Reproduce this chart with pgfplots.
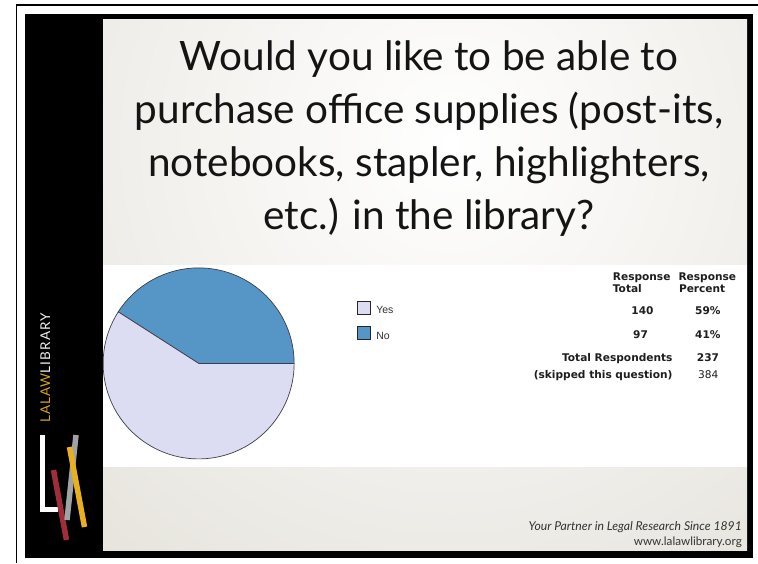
\documentclass[border=0pt]{standalone}
\usepackage{fontspec}
\usepackage{pgfplots}
\usepackage{pgfplotstable}
\pgfplotsset{compat=1.18}
\setmainfont{Lato}
\newfontfamily\titlefont{Lato}
\newfontfamily\tabfont{DejaVu Sans}
\newfontfamily\legfont{Liberation Sans}
\newfontfamily\logofont[LetterSpace=8]{Lato}

\definecolor{yescol}{RGB}{220,220,242}
\definecolor{nocol}{RGB}{86,150,199}
\definecolor{pieline}{RGB}{60,62,72}
\definecolor{slidebg}{RGB}{230,227,220}
\definecolor{titlecol}{RGB}{20,20,20}
\definecolor{tabtext}{RGB}{30,30,30}
\definecolor{legtext}{RGB}{50,50,50}
\definecolor{logogold}{RGB}{212,162,30}
\definecolor{logored}{RGB}{160,45,60}
\definecolor{logogray}{RGB}{160,163,166}
\definecolor{logoyellow}{RGB}{232,176,30}

% survey answers
\pgfplotstableread{
label count
Yes 140
No 97
}\piedata

\begin{document}
\begin{tikzpicture}[x=1pt,y=1pt]
\path[use as bounding box, fill=white] (0,0) rectangle (758,563);

% frame of the slide
\draw[black, line width=1.3pt] (16.5,0) -- (16.5,558) -- (758,558);
\fill[black] (25,5) rectangle (753,549);
\begin{scope}
  \clip (103,13) rectangle (747,543);
  \shade[inner color=white, outer color=slidebg] (450,420) circle (560);
\end{scope}
\fill[white] (103,96) rectangle (747,298);

% logo strip
\node[rotate=90, inner sep=0pt, font=\logofont\fontsize{13.5}{13.5}\selectfont]
  at (45.3,195) {\textcolor{logogold}{LALAW}\textcolor{white!88!gray}{LIBRARY}};
\fill[white] (40,51) rectangle (45,128);
\fill[white] (40,51) rectangle (58,56);
\draw[logored, line width=5.5pt] (53.5,93) -- (66.5,23);
\draw[logogray, line width=5.5pt] (76,128) -- (67,43);
\draw[logoyellow, line width=5.5pt] (69.5,116) -- (84.5,36);

% title
\begin{scope}[every node/.style={anchor=base, text=titlecol,
    font=\titlefont\fontsize{40.5}{48}\selectfont}]
  \node at (429,492) {Would you like to be able to};
  \node at (429,439) {purchase office supplies (post-its,};
  \node at (429,386) {notebooks, stapler, highlighters,};
  \node at (429,333) {etc.) in the library?};
\end{scope}

% pie
\pgfplotstablegetelem{0}{count}\of\piedata \let\nyes\pgfplotsretval
\pgfplotstablegetelem{1}{count}\of\piedata \let\nno\pgfplotsretval
\pgfmathsetmacro\angno{360*(\nno/(\nyes+\nno))}

\begin{axis}[
    hide axis,
    clip=false,
    x=95.5pt, y=95.5pt,
    xmin=-1, xmax=1, ymin=-1, ymax=1,
    anchor=origin,
    at={(208,209)},
    legend style={draw=none, fill=none, at={(1.327,0.83)}, anchor=north west,
      font=\legfont\fontsize{10.5}{12}\selectfont, text=legtext,
      row sep=9pt, inner sep=0pt, nodes={inner sep=2pt}},
    legend cell align=left,
    legend image code/.code={\draw[#1, draw=black!85, line width=0.7pt]
      (0pt,-3pt) rectangle (13pt,10pt); \path (17pt,0pt);},
]
\addlegendimage{fill=yescol}
\addlegendentry{Yes}
\addlegendimage{fill=nocol}
\addlegendentry{No}
\filldraw[fill=nocol, draw=pieline, line width=0.7pt]
  (axis cs:0,0) -- (axis cs:1,0) arc[start angle=0, end angle=\angno, radius=95.5pt] -- cycle;
\filldraw[fill=yescol, draw=pieline, line width=0.7pt]
  (axis cs:0,0) -- ++(\angno:95.5pt) arc[start angle=\angno, end angle=360, radius=95.5pt] -- cycle;
\end{axis}

% response table
\begin{scope}[every node/.style={inner sep=0pt, text=tabtext,
    font=\tabfont\bfseries\fontsize{10.6}{12}\selectfont}]
  \node[anchor=base west] at (612.7,282.7) {Response};
  \node[anchor=base west] at (612.7,270.3) {Total};
  \node[anchor=base west] at (678.3,282.7) {Response};
  \node[anchor=base west] at (678.8,270.3) {Percent};
  \node[anchor=base] at (642.5,248.3) {140};
  \node[anchor=base west] at (695,248.3) {59\%};
  \node[anchor=base] at (640.5,224.3) {97};
  \node[anchor=base west] at (695,224.3) {41\%};
  \node[anchor=base east] at (672.7,201.7) {Total Respondents};
  \node[anchor=base west] at (696.7,201.7) {237};
  \node[anchor=base east] at (672.7,184.3) {(skipped this question)};
  \node[anchor=base west, font=\tabfont\fontsize{10.6}{12}\selectfont] at (698,184.3) {384};
\end{scope}

% footer
\node[anchor=base east, inner sep=0pt, text=black!80,
  font=\itshape\fontsize{12.2}{14}\selectfont] at (742,32.3) {Your Partner in Legal Research Since 1891};
\node[anchor=base east, inner sep=0pt, text=black!80,
  font=\fontsize{11.7}{13}\selectfont] at (742,17.5) {www.lalawlibrary.org};
\end{tikzpicture}
\end{document}
